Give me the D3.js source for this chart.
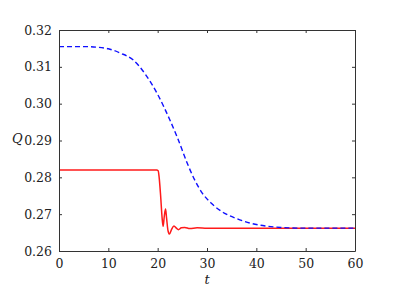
<!DOCTYPE html>
<html>
<head>
<meta charset="utf-8">
<script src="https://cdn.jsdelivr.net/npm/d3@7"></script>
<style>
  body { margin: 0; background: #fff; }
</style>
</head>
<body>
<div id="chart"></div>
<script>
// data
const xTicks = [0, 10, 20, 30, 40, 50, 60];
const yTicks = [0.26, 0.27, 0.28, 0.29, 0.30, 0.31, 0.32];

const blueT = [0, 5, 8, 10, 12.5, 15, 17.5, 20, 22.5, 24, 26, 27.5, 29, 31, 33.5, 36, 38.7, 41.8, 45, 50, 60];
const blueQ = [0.3155, 0.3155, 0.3153, 0.3149, 0.3137, 0.3119, 0.3080, 0.3025, 0.2955, 0.2908, 0.2838, 0.2793, 0.2758, 0.2728, 0.2703, 0.2688, 0.2676, 0.2668, 0.2664, 0.2662, 0.2662];

const redT = [0, 19.8, 20.1, 20.3, 20.6, 20.9, 21.1, 21.35, 21.6, 21.8, 22.1, 22.4, 22.8, 23.3, 23.8, 24.2, 24.8, 25.5, 26.5, 28, 30, 60];
const redQ = [0.2820, 0.2820, 0.2818, 0.2800, 0.2750, 0.2690, 0.2667, 0.2695, 0.2714, 0.2690, 0.2655, 0.2646, 0.2658, 0.2668, 0.2662, 0.2658, 0.2663, 0.2664, 0.2661, 0.2663, 0.2662, 0.2662];

const W = 395, H = 296;
const margin = {top: 30, right: 40, bottom: 45, left: 59};
const width = W - margin.left - margin.right,
    height = H - margin.top - margin.bottom;

const fontFam = "DejaVu Serif";

const svg = d3.select("#chart")
    .append("svg")
    .attr("width", W)
    .attr("height", H);

const g = svg.append("g")
    .attr("transform", "translate(" + margin.left + "," + margin.top + ")");

const x = d3.scaleLinear().domain([0, 60]).range([0, width]);
const y = d3.scaleLinear().domain([0.26, 0.32]).range([height, 0]);

// curves
const line = d3.line()
    .x(d => x(d[0]))
    .y(d => y(d[1]))
    .curve(d3.curveMonotoneX);

g.append("path")
    .datum(redT.map((t, i) => [t, redQ[i]]))
    .attr("fill", "none")
    .attr("stroke", "#ff1a1a")
    .attr("stroke-width", 1.5)
    .attr("d", line);

g.append("path")
    .datum(blueT.map((t, i) => [t, blueQ[i]]))
    .attr("fill", "none")
    .attr("stroke", "#1010ff")
    .attr("stroke-width", 1.4)
    .attr("stroke-dasharray", "5,3")
    .attr("d", line);

// axes, ticks pointing inward on all four sides
const axisColor = "#333";

const axBottom = g.append("g")
    .attr("transform", "translate(0," + height + ")")
    .call(d3.axisBottom(x).tickValues(xTicks).tickSizeInner(-3).tickSizeOuter(0).tickPadding(8));
const axTop = g.append("g")
    .call(d3.axisTop(x).tickValues(xTicks).tickSizeInner(-3).tickSizeOuter(0).tickFormat(""));
const axLeft = g.append("g")
    .call(d3.axisLeft(y).tickValues(yTicks).tickSizeInner(-3).tickSizeOuter(0).tickPadding(7).tickFormat(d3.format(".2f")));
const axRight = g.append("g")
    .attr("transform", "translate(" + width + ",0)")
    .call(d3.axisRight(y).tickValues(yTicks).tickSizeInner(-3).tickSizeOuter(0).tickFormat(""));

[axBottom, axTop, axLeft, axRight].forEach(a => {
    a.attr("font-family", fontFam).attr("font-size", 12.5);
    a.selectAll("path, line").attr("stroke", axisColor);
    a.selectAll("text").attr("fill", "#222");
});

// axis labels
g.append("text")
    .attr("x", x(30))
    .attr("y", height + 33)
    .attr("text-anchor", "middle")
    .attr("font-family", fontFam)
    .attr("font-size", 13)
    .attr("font-style", "italic")
    .attr("fill", "#222")
    .text("t");

g.append("text")
    .attr("x", -47)
    .attr("y", y(0.2893))
    .attr("text-anchor", "start")
    .attr("font-family", fontFam)
    .attr("font-size", 13)
    .attr("font-style", "italic")
    .attr("fill", "#222")
    .text("Q");
</script>
</body>
</html>
